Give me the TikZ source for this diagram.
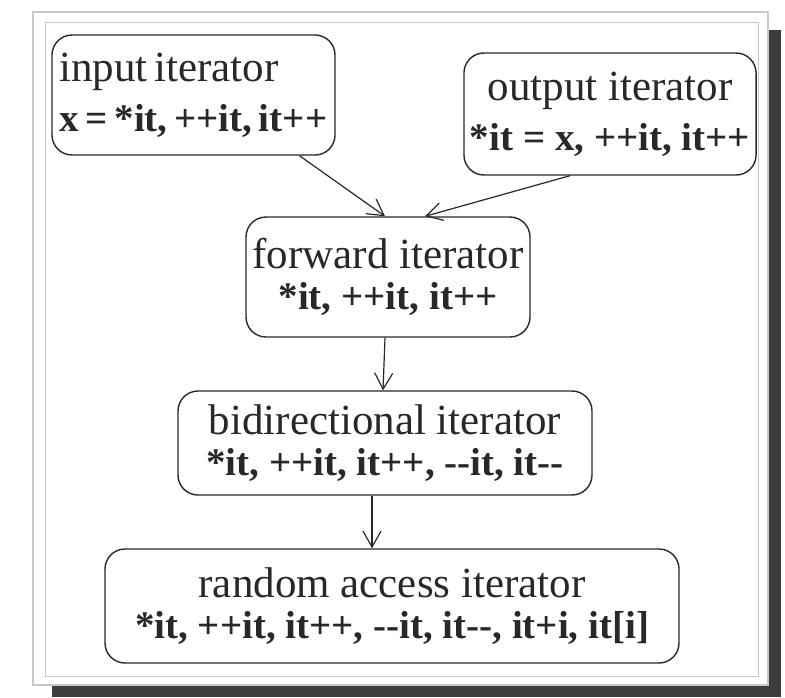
\documentclass[tikz,border=0pt]{standalone}
\usepackage{fontspec}
\setmainfont{Liberation Serif}
\usetikzlibrary{arrows.meta,positioning}
\definecolor{PaperShade}{RGB}{60,60,60}
\definecolor{PaperEdge}{RGB}{200,200,200}
\definecolor{InkGray}{RGB}{40,40,40}
\newcommand{\itname}[1]{{\fontsize{21.5}{24}\selectfont #1}}
\newcommand{\itops}[1]{{\fontsize{19.5}{22}\selectfont\bfseries #1}}
\tikzset{
  itbox/.style={draw=InkGray,line width=0.7pt,rounded corners=10pt,text=InkGray,inner sep=3pt},
  itarrow/.style={-{Straight Barb[length=8pt,width=9pt]},InkGray,line width=0.6pt}
}
\begin{document}
\begin{tikzpicture}[x=0.5pt,y=-0.5pt]
  \useasboundingbox (0,0) rectangle (785,697);
  % scanned page with shadow
  \fill[PaperShade] (52,30) rectangle (781,697);
  \fill[white] (33,12) rectangle (768,685);
  \draw[PaperEdge,line width=1pt] (33,12) rectangle (768,685);
  \draw[PaperEdge,line width=0.5pt] (45,22) rectangle (758,676);
  % iterator boxes
  \node[itbox,minimum width=141.5pt,minimum height=60pt,text width=134pt,align=left] (input) at (193.5,95)
    {\itname{input iterator}\\[6pt]\itops{x = *it, ++it, it++}};
  \node[itbox,minimum width=140pt,minimum height=61pt,align=center] (output) at (610,114)
    {\itname{output iterator}\\[6pt]\itops{*it = x, ++it, it++}};
  \node[itbox,minimum width=142pt,minimum height=60pt,align=center] (forward) at (388,277)
    {\itname{forward iterator}\\[6pt]\itops{*it, ++it, it++}};
  \node[itbox,minimum width=207pt,minimum height=52pt,align=center] (bidir) at (385,443)
    {\itname{bidirectional iterator}\\[6pt]\itops{*it, ++it, it++, -{}-it, it-{}-}};
  \node[itbox,minimum width=287pt,minimum height=57pt,align=center] (random) at (392,606)
    {\itname{random access iterator}\\[6pt]\itops{*it, ++it, it++, -{}-it, it-{}-, it+i, it[i]}};
  % refinement arrows
  \draw[itarrow] ([xshift=53pt]input.south) -- ([xshift=-1.5pt]forward.north);
  \draw[itarrow] ([xshift=-20pt]output.south) -- ([xshift=18.5pt]forward.north);
  \draw[itarrow] ([xshift=-1.5pt]forward.south) -- ([xshift=-1pt]bidir.north);
  \draw[itarrow] ([xshift=-6.5pt]bidir.south) -- ([xshift=-10pt]random.north);
\end{tikzpicture}
\end{document}
